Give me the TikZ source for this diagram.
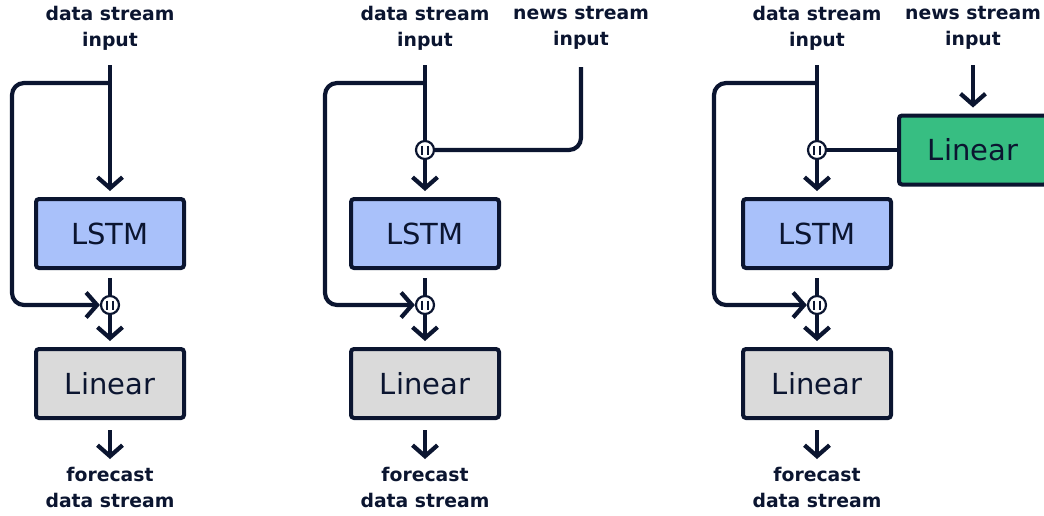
\documentclass[tikz,border=0pt]{standalone}
\usepackage{fontspec}
\setmainfont{DejaVu Sans}
\usetikzlibrary{arrows.meta}
\definecolor{ink}{HTML}{0B1530}
\definecolor{lstmblue}{HTML}{A9C1FA}
\definecolor{lingray}{HTML}{DADADA}
\definecolor{lingreen}{HTML}{37BE82}
\tikzset{
	block/.style={draw=ink, line width=4pt, rounded corners=3pt, minimum width=148pt, minimum height=69pt, inner sep=0pt, text=ink, font=\fontsize{29}{31}\selectfont},
	cat/.style={circle, draw=ink, fill=white, line width=2.2pt, minimum size=18pt, inner sep=0pt,
		path picture={\path (path picture bounding box.center) coordinate (pc);
			\draw[ink, line width=2pt] ([shift={(-2.8,-4.5)}]pc) -- ++(0,9) ([shift={(2.8,-4.5)}]pc) -- ++(0,9);}},
	lbl/.style={text=ink, align=center, inner sep=0pt, font=\bfseries\fontsize{18.8}{26}\selectfont},
	wire/.style={draw=ink, line width=4.2pt},
	flow/.style={wire, -{Straight Barb[length=11pt, width=25pt]}}
}
\begin{document}
\begin{tikzpicture}[x=1pt,y=-1pt]
	\useasboundingbox (0,0) rectangle (1044,515);
	\clip (0,0) rectangle (1044,515);
	% left: LSTM alone
	\coordinate (in1) at (110,65);
	\coordinate (split1) at (110,83);
	\coordinate (back1) at (12,305);
	\coordinate (end1) at (110,459);
	\node[lbl] (din1) at (110,28) {data stream\\input};
	\node[block, fill=lstmblue] (lstm1) at (110,233.5) {LSTM};
	\node[cat] (cat1) at (110,305) {};
	\node[block, fill=lingray] (lin1) at (110,383.5) {Linear};
	\node[lbl] (out1) at (110,487) {forecast\\data stream};
	\draw[flow, shorten >=6pt] (in1) -- (lstm1);
	\draw[flow, rounded corners=12pt] (split1) -| (back1) -- (cat1);
	\draw[wire, shorten <=8pt] (lstm1) -- (cat1);
	\draw[flow, shorten >=6pt] (cat1) -- (lin1);
	\draw[flow, shorten <=10pt] (lin1) -- (end1);
	% middle: news stream joined before LSTM
	\coordinate (in2) at (425,65);
	\coordinate (split2) at (425,83);
	\coordinate (back2) at (325,305);
	\coordinate (news2) at (581,67);
	\coordinate (end2) at (425,459);
	\node[lbl] (din2) at (425,28) {data stream\\input};
	\node[lbl] (nin2) at (581,28) {news stream\\input};
	\node[cat] (cat2a) at (425,150) {};
	\node[block, fill=lstmblue] (lstm2) at (425,233.5) {LSTM};
	\node[cat] (cat2b) at (425,305) {};
	\node[block, fill=lingray] (lin2) at (425,383.5) {Linear};
	\node[lbl] (out2) at (425,487) {forecast\\data stream};
	\draw[wire] (in2) -- (cat2a);
	\draw[wire, rounded corners=12pt] (news2) |- (cat2a);
	\draw[flow, shorten >=6pt] (cat2a) -- (lstm2);
	\draw[flow, rounded corners=12pt] (split2) -| (back2) -- (cat2b);
	\draw[wire, shorten <=8pt] (lstm2) -- (cat2b);
	\draw[flow, shorten >=6pt] (cat2b) -- (lin2);
	\draw[flow, shorten <=10pt] (lin2) -- (end2);
	% right: news stream through its own Linear
	\coordinate (in3) at (817,65);
	\coordinate (split3) at (817,83);
	\coordinate (back3) at (714,305);
	\coordinate (news3) at (973,65);
	\coordinate (end3) at (817,459);
	\node[lbl] (din3) at (817,28) {data stream\\input};
	\node[lbl] (nin3) at (973,28) {news stream\\input};
	\node[cat] (cat3a) at (817,150) {};
	\node[block, fill=lingreen] (news3lin) at (973,150) {Linear};
	\node[block, fill=lstmblue] (lstm3) at (817,233.5) {LSTM};
	\node[cat] (cat3b) at (817,305) {};
	\node[block, fill=lingray] (lin3) at (817,383.5) {Linear};
	\node[lbl] (out3) at (817,487) {forecast\\data stream};
	\draw[wire] (in3) -- (cat3a);
	\draw[flow, shorten >=6pt] (news3) -- (news3lin);
	\draw[wire] (news3lin) -- (cat3a);
	\draw[flow, shorten >=6pt] (cat3a) -- (lstm3);
	\draw[flow, rounded corners=12pt] (split3) -| (back3) -- (cat3b);
	\draw[wire, shorten <=8pt] (lstm3) -- (cat3b);
	\draw[flow, shorten >=6pt] (cat3b) -- (lin3);
	\draw[flow, shorten <=10pt] (lin3) -- (end3);
\end{tikzpicture}
\end{document}
